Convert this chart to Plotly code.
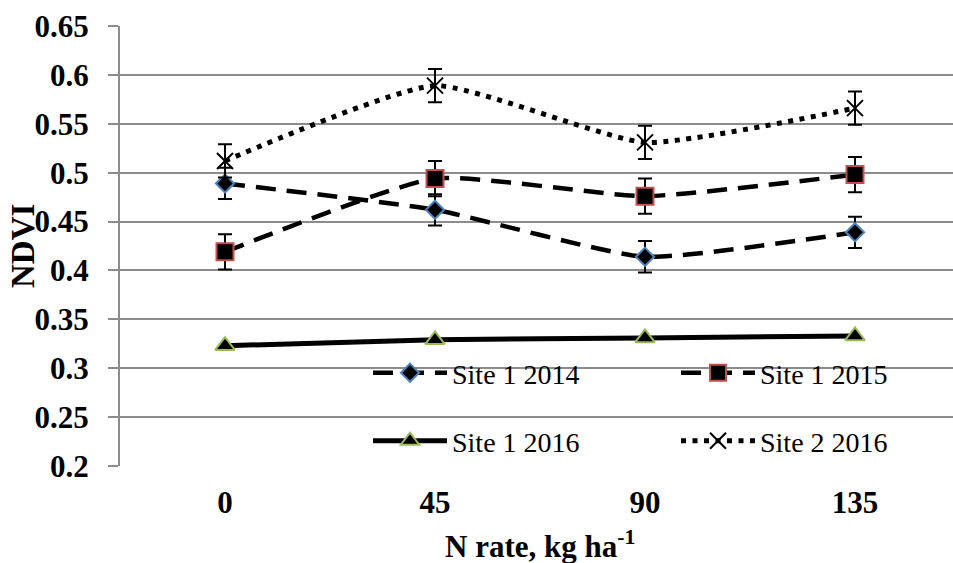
import plotly.graph_objects as go

# N rate categories (kg/ha)
n_rates = ["0", "45", "90", "135"]

# Mean NDVI per site-year
site1_2014 = [0.489, 0.462, 0.414, 0.439]
site1_2015 = [0.419, 0.494, 0.476, 0.498]
site1_2016 = [0.323, 0.329, 0.331, 0.333]
site2_2016 = [0.512, 0.589, 0.531, 0.566]

# Error bar half-widths
err_2014 = [0.016, 0.016, 0.016, 0.016]
err_2015 = [0.018, 0.018, 0.018, 0.018]
err_site2 = [0.017, 0.017, 0.017, 0.017]

y_ticks = [0.2, 0.25, 0.3, 0.35, 0.4, 0.45, 0.5, 0.55, 0.6, 0.65]
y_tick_text = ["0.2", "0.25", "0.3", "0.35", "0.4", "0.45", "0.5", "0.55", "0.6", "0.65"]

FONT = "Times New Roman"
GRID = "#8c8c8c"

fig = go.Figure()

def err(vals):
    return dict(type="data", array=vals, visible=True, color="black",
                thickness=2, width=7)

fig.add_trace(go.Scatter(
    x=n_rates, y=site1_2014, name="Site 1 2014", mode="lines+markers",
    line=dict(color="black", width=4.5, dash="20px,11px", shape="spline", smoothing=0.5),
    marker=dict(symbol="diamond", size=14, color="black",
                line=dict(color="#4f81bd", width=2)),
    error_y=err(err_2014), legend="legend"))

fig.add_trace(go.Scatter(
    x=n_rates, y=site1_2015, name="Site 1 2015", mode="lines+markers",
    line=dict(color="black", width=4.5, dash="20px,11px", shape="spline", smoothing=0.5),
    marker=dict(symbol="square", size=17, color="black",
                line=dict(color="#c0504d", width=2)),
    error_y=err(err_2015), legend="legend2"))

fig.add_trace(go.Scatter(
    x=n_rates, y=site1_2016, name="Site 1 2016", mode="lines+markers",
    line=dict(color="black", width=5, shape="spline", smoothing=0.5),
    marker=dict(symbol="triangle-up", size=17, color="black",
                line=dict(color="#9bbb59", width=2)),
    legend="legend3"))

fig.add_trace(go.Scatter(
    x=n_rates, y=site2_2016, name="Site 2 2016", mode="lines+markers",
    line=dict(color="black", width=5, dash="5px,6.5px", shape="spline", smoothing=0.5),
    marker=dict(symbol="x-thin", size=16, color="black",
                line=dict(color="black", width=2)),
    error_y=err(err_site2), legend="legend4"))

PLOT_L, PLOT_W, PLOT_B, PLOT_H = 120, 833, 466, 440
ITEM_W = 74


def legend_at(px, py):
    return dict(
        x=(px - PLOT_L) / PLOT_W, y=(PLOT_B - py) / PLOT_H,
        xanchor="left", yanchor="middle",
        bgcolor="rgba(0,0,0,0)", borderwidth=0,
        font=dict(family=FONT, size=28, color="black"),
        itemwidth=ITEM_W,
    )


fig.update_layout(
    width=953, height=563,
    margin=dict(l=PLOT_L, r=0, t=26, b=97),
    paper_bgcolor="white", plot_bgcolor="white",
    font=dict(family=FONT, color="black"),
    showlegend=True,
    legend=legend_at(368, 373),
    legend2=legend_at(676, 373),
    legend3=legend_at(368, 441),
    legend4=legend_at(676, 441),
    xaxis=dict(
        type="category", range=[-0.5, 3.5 - 7 / 210],
        showgrid=False, zeroline=False, showline=False, ticks="",
        tickfont=dict(family=FONT, size=31, color="black", weight="bold"),
        ticklabelstandoff=15,
    ),
    yaxis=dict(
        range=[0.2, 0.65], tickvals=y_ticks, ticktext=y_tick_text,
        showgrid=True, gridcolor=GRID, gridwidth=2,
        showline=True, linecolor=GRID, linewidth=2,
        ticks="outside", ticklen=10, tickwidth=2, tickcolor=GRID,
        zeroline=False,
        tickfont=dict(family=FONT, size=31, color="black", weight="bold"),
        ticklabelstandoff=13,
    ),
    annotations=[
        dict(text="N rate, kg ha<sup>-1</sup>", x=1.5, xref="x",
             y=(PLOT_B - 544) / PLOT_H, yref="paper", xanchor="center", yanchor="middle",
             showarrow=False, font=dict(family=FONT, size=31, color="black", weight="bold")),
        dict(text="NDVI", x=(23 - PLOT_L) / PLOT_W, xref="paper",
             y=0.5, yref="paper", xanchor="center", yanchor="middle", textangle=-90,
             showarrow=False, font=dict(family=FONT, size=33, color="black", weight="bold")),
    ],
)

fig.write_html("out.html")
